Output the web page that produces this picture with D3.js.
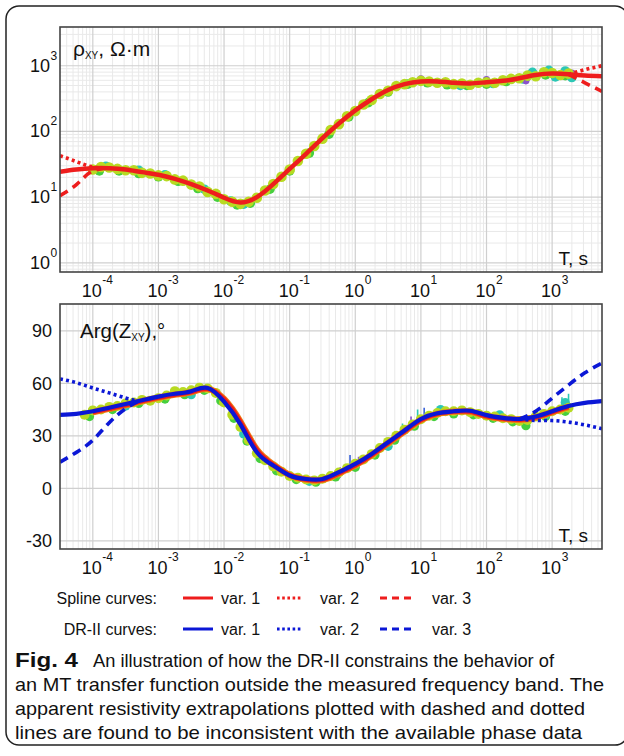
<!DOCTYPE html>
<html>
<head>
<meta charset="utf-8">
<script src="https://cdn.jsdelivr.net/npm/d3@7"></script>
<style>
  body { margin: 0; background: #fff; }
  svg { display: block; }
  text { font-family: "Liberation Sans", Arial, sans-serif; fill: #111; }
</style>
</head>
<body>
<svg id="fig" width="624" height="756"></svg>
<script>
// ---- data (periods given as log10 T, in s) ----
const curveLogT = [-4.5,-4.25,-4,-3.75,-3.5,-3.25,-3,-2.75,-2.5,-2.25,-2,-1.75,-1.5,-1.25,-1,-0.75,-0.5,-0.25,0,0.25,0.5,0.75,1,1.25,1.5,1.75,2,2.25,2.5,2.75,3,3.25,3.5,3.76];

// apparent resistivity, spline var. 1 (Ohm.m)
const rhoSpline1 = [24.3,26.3,27.5,27.5,26.3,24,21.9,19,15.8,12.6,9.8,8.3,10,15.8,26.9,45.7,79,132,209,309,427,525,575,575,550,537,562,589,646,724,759,741,708,692];

// resistivity extrapolations (var. 2 dotted, var. 3 dashed)
const rhoExtrapLeftLogT = [-4.5,-4.25,-4.05,-3.85];
const rhoVar2Left = [42.7,34.7,29.5,27.6];
const rhoVar3Left = [10.5,15.5,23.4,27.4];
const rhoExtrapRightLogT = [3.25,3.5,3.76];
const rhoVar2Right = [741,871,1000];
const rhoVar3Right = [741,550,407];

// phase, DR-II var. 1 (degrees)
const phaseDR1 = [41.9,42.5,44,46,48.2,50.3,52.4,54,55.5,57.3,49.5,36.5,20.6,13,7.3,5.3,5.3,9.2,13.9,19.6,26.3,33,39.6,42.9,44,44.3,41.8,40.2,39.6,41,44,47,48.8,49.8];

// phase, spline var. 1 (only inside the measured band)
const phaseSplineLogT = [-4,-3.75,-3.5,-3.25,-3,-2.75,-2.5,-2.25,-2,-1.75,-1.5,-1.25,-1,-0.75,-0.5,-0.25,0,0.25,0.5,0.75,1,1.25,1.5,1.75,2,2.25,2.5,2.75,3,3.25];
const phaseSpline1 = [43.5,45.5,47.5,49.8,51.8,53.5,55,56.8,51,38,22,13.5,7.5,5,4.8,8.5,13.2,19,25.8,32.5,39,42.5,43.8,43.8,41.2,39.8,39.2,40.5,43.5,46.5];

// phase extrapolations (DR-II var. 2 dotted, var. 3 dashed)
const phaseExtrapLeftLogT = [-4.5,-4.25,-4,-3.75,-3.5,-3.3];
const phaseVar2Left = [62.5,60.3,57.3,54.5,51.6,49.8];
const phaseVar3Left = [14.9,20.5,27.5,37.5,45.5,49.8];
const phaseExtrapRightLogT = [2.5,2.75,3,3.25,3.5,3.76];
const phaseVar2Right = [39.6,38.8,38.7,37.8,36.2,34];
const phaseVar3Right = [39.6,44,51.5,59,66,71.5];

// measured apparent resistivity (main data set)
const rhoDataLogT = [-4,-3.875,-3.75,-3.625,-3.5,-3.375,-3.25,-3.125,-3,-2.875,-2.75,-2.625,-2.5,-2.375,-2.25,-2.125,-2,-1.875,-1.75,-1.625,-1.5,-1.375,-1.25,-1.125,-1,-0.875,-0.75,-0.625,-0.5,-0.375,-0.25,-0.125,0,0.125,0.25,0.375,0.5,0.625,0.75,0.875,1,1.125,1.25,1.375,1.5,1.625,1.75,1.875,2,2.125,2.25,2.375,2.5,2.625,2.75,2.875,3,3.125,3.25];
const rhoData = [26.3,28.8,28.2,26.9,25.7,25.7,23.4,22.9,21.4,20.9,18.6,17.8,15.5,14.5,12.0,11.2,9.3,8.5,7.9,8.5,9.8,12.6,15.8,20.4,26.3,35.5,45.7,60,77.6,105,129,170,204,257,302,372,417,490,525,562,589,575,550,562,525,537,513,550,562,550,603,631,646,708,692,794,776,724,759];

// other resistivity estimates
const rhoGreenLogT = [-3.9,-3.6,-3.3,-3,-2.7,-2.4,-2.1,-1.8,-1.6,-1.3,-1,-0.7,-0.4,-0.1,0.2,0.5,0.8,1.1,1.4,1.7,2,2.3,2.6,2.9,3.2];
const rhoGreen = [25.1,25.1,22.9,20.4,17.4,13.5,10,7.6,8.1,13.2,25.1,46.8,91,166,275,398,525,550,513,501,525,575,661,724,708];
const rhoCyanLogT = [-3.8,-3.3,-2.9,-2.3,-1.9,-1.7,1.6,2.1,2.55,2.7,2.95,3.05,3.2,3.3];
const rhoCyan = [29.5,25.7,21.9,13.2,8.7,7.8,501,537,631,794,851,676,832,661];
const rhoBlueLogT = [1.0,2.0,2.6,3.3];
const rhoBlue = [631,617,589,776];

// measured phase (main data set)
const phaseDataLogT = [-4.125,-4,-3.875,-3.75,-3.625,-3.5,-3.375,-3.25,-3.125,-3,-2.875,-2.75,-2.625,-2.5,-2.375,-2.25,-2.125,-2,-1.875,-1.75,-1.625,-1.5,-1.375,-1.25,-1.125,-1,-0.875,-0.75,-0.625,-0.5,-0.375,-0.25,-0.125,0,0.125,0.25,0.375,0.5,0.625,0.75,0.875,1,1.125,1.25,1.375,1.5,1.625,1.75,1.875,2,2.125,2.25,2.375,2.5,2.625,2.75,2.875,3,3.125,3.25];
const phaseData = [42,44.5,45,46.5,47,48.5,49,50.5,50,51.5,53,55.5,55,56,57.5,57,54.5,49,42,35,27.5,20,16,12.5,9.5,7,6,5,4.5,5.5,7,9,11.5,14,16.5,19.5,23,26.5,30,33.5,36.5,39.5,41.5,43,44,44,44.5,43.5,42.5,41.5,41,40,39.5,38.5,39,41,42.5,44,45,46];

const phaseGreenLogT = [-4.05,-3.7,-3.3,-2.9,-2.6,-2.3,-2.05,-1.85,-1.65,-1.45,-1.2,-0.9,-0.6,-0.3,0,0.3,0.6,0.9,1.2,1.5,1.8,2.1,2.4,2.6,2.9,3.2];
const phaseGreen = [41,45,48.5,51,53.5,56,50,40,27,17,10,5,3.5,6.5,12,19,27.5,35.5,41,42.5,42,40,38,35.8,41,44];
const phaseCyanLogT = [-3.5,-2.5,-1.7,-0.7,0.5,1.3,2.2,2.9,3.2];
const phaseCyan = [47,53.5,31,4,24,45,42,42,49];

// phase error bars: period, low, high
const errLogT = [-0.23,-0.08,0.05,0.72,0.85,0.95,1.05,3.15,3.25];
const errLow = [6,12,13,30,33,38,38,44,45];
const errHigh = [12,19,18,37,41,45,46,52,54];
const errColor = ["#8a52cc","#3a63d8","#8a52cc","#2cc7b5","#8a52cc","#2cc7b5","#3a63d8","#2cc7b5","#2cc7b5"];

const decades = [-4,-3,-2,-1,0,1,2,3];
const rhoDecades = [0,1,2,3];
const phaseTicks = [-30,0,30,60,90];

const legendRows = ["Spline curves:", "DR-II curves:"];
const legendVars = ["var. 1", "var. 2", "var. 3"];

const captionBold = "Fig. 4";
const captionLines = [
  "An illustration of how the DR-II constrains the behavior of",
  "an MT transfer function outside the measured frequency band. The",
  "apparent resistivity extrapolations plotted with dashed and dotted",
  "lines are found to be inconsistent with the available phase data"
];

// ---- drawing ----
const RED = "#ee1d1d", BLUE = "#0b17d6";
const C_YG = "#b8da22", C_GREEN = "#46cf3e", C_CYAN = "#2cc7b5", C_BLUE = "#3a63d8", C_PURPLE = "#8a52cc";

const svg = d3.select("#fig");

svg.append("rect")
  .attr("x", 6).attr("y", 6).attr("width", 622).attr("height", 739)
  .attr("rx", 13).attr("fill", "none").attr("stroke", "#222").attr("stroke-width", 1.5);

const L = 60, R = 602;
const x = d3.scaleLog().domain([10 ** -4.5, 10 ** 3.76]).range([L, R]);
const yRho = d3.scaleLog().domain([10 ** -0.14, 10 ** 3.59]).range([272, 27]);
const yPh = d3.scaleLinear().domain([-34.7, 105.3]).range([549, 304]);

const pairs = (ts, vs) => ts.map((t, i) => [10 ** t, vs[i]]);

const minorX = [];
for (let n = -5; n <= 3; n++) for (let k = 2; k <= 9; k++) {
  const v = k * 10 ** n;
  if (v > x.domain()[0] && v < x.domain()[1]) minorX.push(v);
}

function panel(y, y0, y1, id, minorY, majorY) {
  const g = svg.append("g");
  g.append("clipPath").attr("id", id)
    .append("rect").attr("x", L).attr("y", y0).attr("width", R - L).attr("height", y1 - y0);

  const grid = g.append("g");
  grid.selectAll(".mx").data(minorX).enter().append("line")
    .attr("x1", d => x(d)).attr("x2", d => x(d)).attr("y1", y0).attr("y2", y1)
    .attr("stroke", "#e9e9e9").attr("stroke-width", 1);
  grid.selectAll(".my").data(minorY).enter().append("line")
    .attr("x1", L).attr("x2", R).attr("y1", d => y(d)).attr("y2", d => y(d))
    .attr("stroke", "#e9e9e9").attr("stroke-width", 1);
  grid.selectAll(".Mx").data(decades).enter().append("line")
    .attr("x1", d => x(10 ** d)).attr("x2", d => x(10 ** d)).attr("y1", y0).attr("y2", y1)
    .attr("stroke", "#cfcfcf").attr("stroke-width", 1.2);
  grid.selectAll(".My").data(majorY).enter().append("line")
    .attr("x1", L).attr("x2", R).attr("y1", d => y(d)).attr("y2", d => y(d))
    .attr("stroke", "#cfcfcf").attr("stroke-width", 1.2);

  const plot = g.append("g").attr("clip-path", `url(#${id})`);

  // x tick labels
  const tl = g.append("g");
  decades.forEach(d => {
    const px = x(10 ** d);
    tl.append("text").attr("x", px - 1).attr("y", y1 + 25)
      .attr("text-anchor", "middle").attr("font-size", 18).text("10");
    tl.append("text").attr("x", px + 9.5).attr("y", y1 + 12)
      .attr("font-size", 12).text(d);
  });
  return { g, plot, frame: () => g.append("rect").attr("x", L).attr("y", y0)
    .attr("width", R - L).attr("height", y1 - y0)
    .attr("fill", "none").attr("stroke", "#444").attr("stroke-width", 1.6) };
}

function dots(plot, y, data, color, r) {
  plot.append("g").selectAll("circle").data(data).enter().append("circle")
    .attr("cx", d => x(d[0])).attr("cy", d => y(d[1])).attr("r", r).attr("fill", color);
}

function curve(plot, y, data, color, width, dash) {
  const line = d3.line().x(d => x(d[0])).y(d => y(d[1])).curve(d3.curveNatural);
  plot.append("path").datum(data).attr("d", line)
    .attr("fill", "none").attr("stroke", color).attr("stroke-width", width)
    .attr("stroke-dasharray", dash || null).attr("stroke-linecap", "butt");
}

const DOTTED = "3,3.2", DASHED = "9,6";

// ---- top panel: apparent resistivity ----
const minorRho = [];
for (let n = -1; n <= 3; n++) for (let k = 2; k <= 9; k++) {
  const v = k * 10 ** n;
  if (v > yRho.domain()[0] && v < yRho.domain()[1]) minorRho.push(v);
}
const rhoPanel = panel(yRho, 27, 272, "clipRho", minorRho, rhoDecades.map(d => 10 ** d));
dots(rhoPanel.plot, yRho, pairs(rhoGreenLogT, rhoGreen), C_GREEN, 4.8);
dots(rhoPanel.plot, yRho, pairs(rhoCyanLogT, rhoCyan), C_CYAN, 4.8);
dots(rhoPanel.plot, yRho, pairs(rhoBlueLogT, rhoBlue), C_PURPLE, 3.6);
dots(rhoPanel.plot, yRho, pairs(rhoDataLogT, rhoData), C_YG, 5.3);
curve(rhoPanel.plot, yRho, pairs(rhoExtrapLeftLogT, rhoVar2Left), RED, 3.6, DOTTED);
curve(rhoPanel.plot, yRho, pairs(rhoExtrapLeftLogT, rhoVar3Left), RED, 3.6, DASHED);
curve(rhoPanel.plot, yRho, pairs(rhoExtrapRightLogT, rhoVar2Right), RED, 3.6, DOTTED);
curve(rhoPanel.plot, yRho, pairs(rhoExtrapRightLogT, rhoVar3Right), RED, 3.6, DASHED);
curve(rhoPanel.plot, yRho, pairs(curveLogT, rhoSpline1), RED, 4.5);
rhoPanel.frame();

rhoDecades.forEach(d => {
  const py = yRho(10 ** d);
  rhoPanel.g.append("text").attr("x", 50).attr("y", py + 6)
    .attr("text-anchor", "end").attr("font-size", 18).text("10");
  rhoPanel.g.append("text").attr("x", 50.5).attr("y", py - 6)
    .attr("font-size", 12).text(d);
});

const rhoLabel = rhoPanel.g.append("text").attr("x", 73).attr("y", 56).attr("font-size", 21);
rhoLabel.append("tspan").text("ρ");
rhoLabel.append("tspan").attr("font-size", 10).attr("dy", 3).text("XY");
rhoLabel.append("tspan").attr("dy", -3).text(", Ω·m");
rhoPanel.g.append("text").attr("x", 588).attr("y", 265).attr("text-anchor", "end")
  .attr("font-size", 19).text("T, s");

// ---- bottom panel: phase ----
const phPanel = panel(yPh, 304, 549, "clipPh", [], phaseTicks);
const errG = phPanel.plot.append("g");
errLogT.forEach((t, i) => {
  errG.append("line").attr("x1", x(10 ** t)).attr("x2", x(10 ** t))
    .attr("y1", yPh(errLow[i])).attr("y2", yPh(errHigh[i]))
    .attr("stroke", errColor[i]).attr("stroke-width", 1.6);
});
dots(phPanel.plot, yPh, pairs(phaseGreenLogT, phaseGreen), C_GREEN, 4.6);
dots(phPanel.plot, yPh, pairs(phaseCyanLogT, phaseCyan), C_CYAN, 4.6);
dots(phPanel.plot, yPh, pairs(phaseDataLogT, phaseData), C_YG, 5);
curve(phPanel.plot, yPh, pairs(phaseSplineLogT, phaseSpline1), "#f07a10", 6.5);
curve(phPanel.plot, yPh, pairs(phaseSplineLogT, phaseSpline1), RED, 4.5);
curve(phPanel.plot, yPh, pairs(phaseExtrapLeftLogT, phaseVar2Left), BLUE, 3.6, DOTTED);
curve(phPanel.plot, yPh, pairs(phaseExtrapLeftLogT, phaseVar3Left), BLUE, 3.6, DASHED);
curve(phPanel.plot, yPh, pairs(phaseExtrapRightLogT, phaseVar2Right), BLUE, 3.6, DOTTED);
curve(phPanel.plot, yPh, pairs(phaseExtrapRightLogT, phaseVar3Right), BLUE, 3.6, DASHED);
curve(phPanel.plot, yPh, pairs(curveLogT, phaseDR1), BLUE, 4.2);
phPanel.frame();

phaseTicks.forEach(v => {
  phPanel.g.append("text").attr("x", 52).attr("y", yPh(v) + 6.5)
    .attr("text-anchor", "end").attr("font-size", 18).text(v);
});
const phLabel = phPanel.g.append("text").attr("x", 80).attr("y", 338).attr("font-size", 20.5);
phLabel.append("tspan").text("Arg(Z");
phLabel.append("tspan").attr("font-size", 10).attr("dy", 3).text("XY");
phLabel.append("tspan").attr("dy", -3).text("),°");
phPanel.g.append("text").attr("x", 588).attr("y", 542).attr("text-anchor", "end")
  .attr("font-size", 19).text("T, s");

// ---- legend ----
const lg = svg.append("g");
const legendColors = [RED, BLUE];
const legendDash = [null, "2.6,2.6", "7,5"];
const sampleX = [183, 277, 380];
const sampleW = [30, 24, 31];
const varX = [221, 320, 432];
legendRows.forEach((label, r) => {
  const yb = 604 + r * 31;
  lg.append("text").attr("x", 157).attr("y", yb).attr("text-anchor", "end")
    .attr("font-size", 16).text(label);
  legendVars.forEach((v, i) => {
    lg.append("line").attr("x1", sampleX[i]).attr("x2", sampleX[i] + sampleW[i])
      .attr("y1", yb - 6).attr("y2", yb - 6)
      .attr("stroke", legendColors[r]).attr("stroke-width", 3)
      .attr("stroke-dasharray", legendDash[i]);
    lg.append("text").attr("x", varX[i]).attr("y", yb).attr("font-size", 16).text(v);
  });
});

// ---- caption ----
const cap = svg.append("g").attr("font-size", 19);
cap.append("text").attr("x", 15).attr("y", 667)
  .attr("font-size", 20).attr("font-weight", "bold")
  .attr("textLength", 63).attr("lengthAdjust", "spacingAndGlyphs").text(captionBold);
const capStarts = [93, 15, 15, 15];
const capEnds = [554, 604, 585, 582];
captionLines.forEach((line, i) => {
  cap.append("text").attr("x", capStarts[i]).attr("y", 667 + i * 24)
    .attr("textLength", capEnds[i] - capStarts[i]).attr("lengthAdjust", "spacingAndGlyphs")
    .text(line);
});
</script>
</body>
</html>
